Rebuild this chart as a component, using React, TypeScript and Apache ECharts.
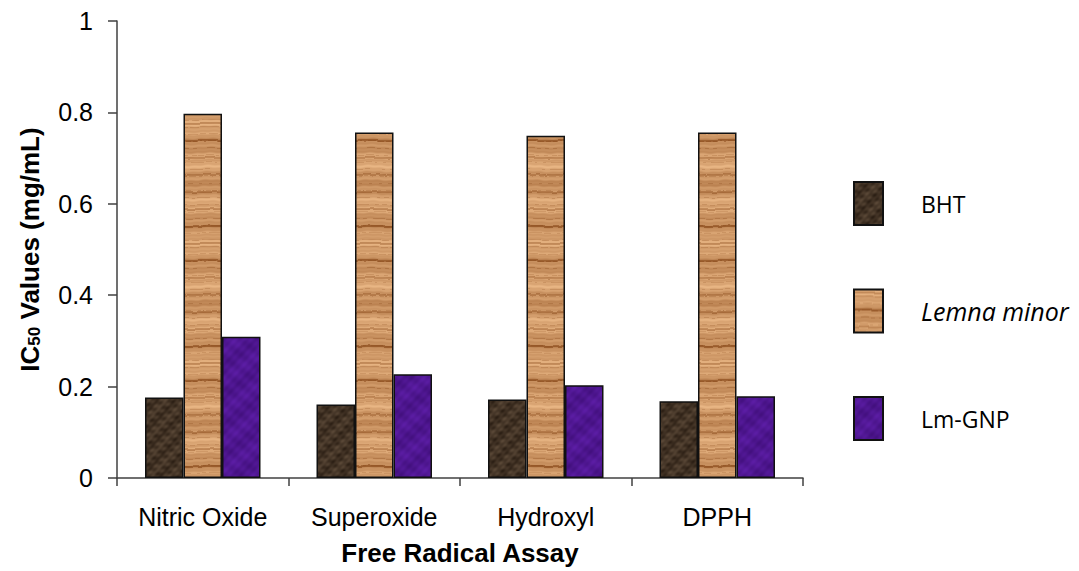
import React, { useEffect, useRef } from 'react';
import * as echarts from 'echarts';

const categories = ['Nitric Oxide', 'Superoxide', 'Hydroxyl', 'DPPH'];
const seriesNames = ['BHT', 'Lemna minor', 'Lm-GNP'];
const bhtValues = [0.176, 0.161, 0.172, 0.168];
const lemnaValues = [0.797, 0.756, 0.749, 0.756];
const lmGnpValues = [0.309, 0.227, 0.203, 0.179];
const yAxisMin = 0;
const yAxisMax = 1;
const yAxisStep = 0.2;

type RGB = [number, number, number];

function makeTexture(w: number, h: number, dark: RGB, light: RGB, fn: (x: number, y: number) => number) {
  const c = document.createElement('canvas');
  c.width = w;
  c.height = h;
  const ctx = c.getContext('2d')!;
  const img = ctx.createImageData(w, h);
  for (let y = 0; y < h; y++) {
    for (let x = 0; x < w; x++) {
      let t = fn(x, y);
      t = Math.max(0, Math.min(1, t));
      const i = (y * w + x) * 4;
      img.data[i] = dark[0] + (light[0] - dark[0]) * t;
      img.data[i + 1] = dark[1] + (light[1] - dark[1]) * t;
      img.data[i + 2] = dark[2] + (light[2] - dark[2]) * t;
      img.data[i + 3] = 255;
    }
  }
  ctx.putImageData(img, 0, 0);
  return c;
}

export default function App() {
  const ref = useRef<HTMLDivElement>(null);

  useEffect(() => {
    document.body.style.margin = '0';
    if (!ref.current) return;
    const chart = echarts.init(ref.current, undefined, { renderer: 'svg' });

    const TX = (2 * Math.PI) / 40;
    const TY60 = (2 * Math.PI) / 60;
    const TY120 = (2 * Math.PI) / 120;

    const wood = makeTexture(40, 120, [150, 88, 40], [238, 188, 138], (x, y) => {
      const w = y + 0.5 * Math.sin(TX * x) + 0.3 * Math.sin(3 * TX * x + y * 0.1);
      let v = 0.66 + 0.14 * Math.sin(3 * TY120 * w + 1.0) + 0.09 * Math.sin(11 * TY120 * w) + 0.06 * Math.sin(29 * TY120 * w + 0.7);
      if (Math.sin(7 * TY120 * w + 0.5) > 0.93) v -= 0.34;
      if (Math.sin(17 * TY120 * w + 2.1) > 0.96) v -= 0.18;
      return v;
    });
    const bht = makeTexture(40, 60, [38, 26, 16], [140, 116, 92], (x, y) => {
      return 0.28 + 0.09 * Math.sin(2 * TX * x + 3 * TY60 * y) + 0.07 * Math.sin(5 * TY60 * y - 3 * TX * x + 1) + 0.05 * Math.sin(7 * TX * x + 9 * TY60 * y + 2) + 0.05 * Math.sin(11 * TY60 * y + TX * x);
    });
    const gnp = makeTexture(40, 60, [52, 8, 104], [112, 40, 196], (x, y) => {
      return 0.45 + 0.09 * Math.sin(TX * x + 2 * TY60 * y) + 0.07 * Math.sin(4 * TY60 * y - 2 * TX * x + 1) + 0.05 * Math.sin(5 * TX * x + 7 * TY60 * y + 2);
    });

    const textures = [bht, wood, gnp];
    const dataSets = [bhtValues, lemnaValues, lmGnpValues];

    const font = '"Liberation Sans", Arial, sans-serif';

    chart.setOption({
      animation: false,
      backgroundColor: '#ffffff',
      grid: { left: 117, right: 276, top: 21, bottom: 90, containLabel: false },
      legend: {
        orient: 'vertical',
        left: 853,
        top: 181,
        padding: 0,
        itemWidth: 29,
        itemHeight: 43,
        itemGap: 62.5,
        icon: 'rect',
        selectedMode: false,
        textStyle: {
          fontFamily: '"Open Sans", sans-serif',
          fontSize: 23,
          color: '#000',
          padding: [0, 0, 0, 33],
        },
        data: [
          { name: seriesNames[0] },
          { name: seriesNames[1], textStyle: { fontStyle: 'italic', fontSize: 25 } },
          { name: seriesNames[2] },
        ],
      },
      xAxis: {
        type: 'category',
        data: categories,
        boundaryGap: true,
        axisLine: { show: true, lineStyle: { color: '#404040', width: 1.5 } },
        axisTick: { show: true, inside: false, length: 8, alignWithLabel: false, lineStyle: { color: '#404040', width: 1.5 } },
        axisLabel: { fontFamily: font, fontSize: 25, color: '#000', margin: 26, interval: 0 },
        name: 'Free Radical Assay',
        nameLocation: 'middle',
        nameGap: 62,
        nameTextStyle: { fontFamily: font, fontSize: 26, fontWeight: 'bold', color: '#000' },
        splitLine: { show: false },
      },
      yAxis: {
        type: 'value',
        min: yAxisMin,
        max: yAxisMax,
        interval: yAxisStep,
        axisLine: { show: true, lineStyle: { color: '#404040', width: 1.5 } },
        axisTick: { show: true, inside: false, length: 9, lineStyle: { color: '#404040', width: 1.5 } },
        axisLabel: {
          fontFamily: font,
          fontSize: 25,
          color: '#000',
          margin: 24,
          formatter: (v: number) => String(parseFloat(v.toFixed(1))),
        },
        splitLine: { show: false },
        name: '{b|IC}{s|50}{b| Values (mg/mL)}',
        nameLocation: 'middle',
        nameGap: 74,
        nameTextStyle: {
          fontFamily: font,
          fontSize: 26,
          fontWeight: 'bold',
          color: '#000',
          rich: {
            b: { fontFamily: font, fontSize: 26, fontWeight: 'bold', color: '#000' },
            s: { fontFamily: font, fontSize: 17, fontWeight: 'bold', color: '#000', verticalAlign: 'bottom' },
          },
        },
      },
      series: seriesNames.map((name, i) => ({
        name,
        type: 'bar',
        data: dataSets[i],
        barWidth: 38.5,
        barGap: '0%',
        itemStyle: {
          color: { image: textures[i], repeat: 'repeat' },
          borderColor: '#111',
          borderWidth: 1.5,
        },
        emphasis: { disabled: true },
      })),
    });

    return () => {
      chart.dispose();
    };
  }, []);

  return <div ref={ref} style={{ width: 1079, height: 571 }} />;
}
